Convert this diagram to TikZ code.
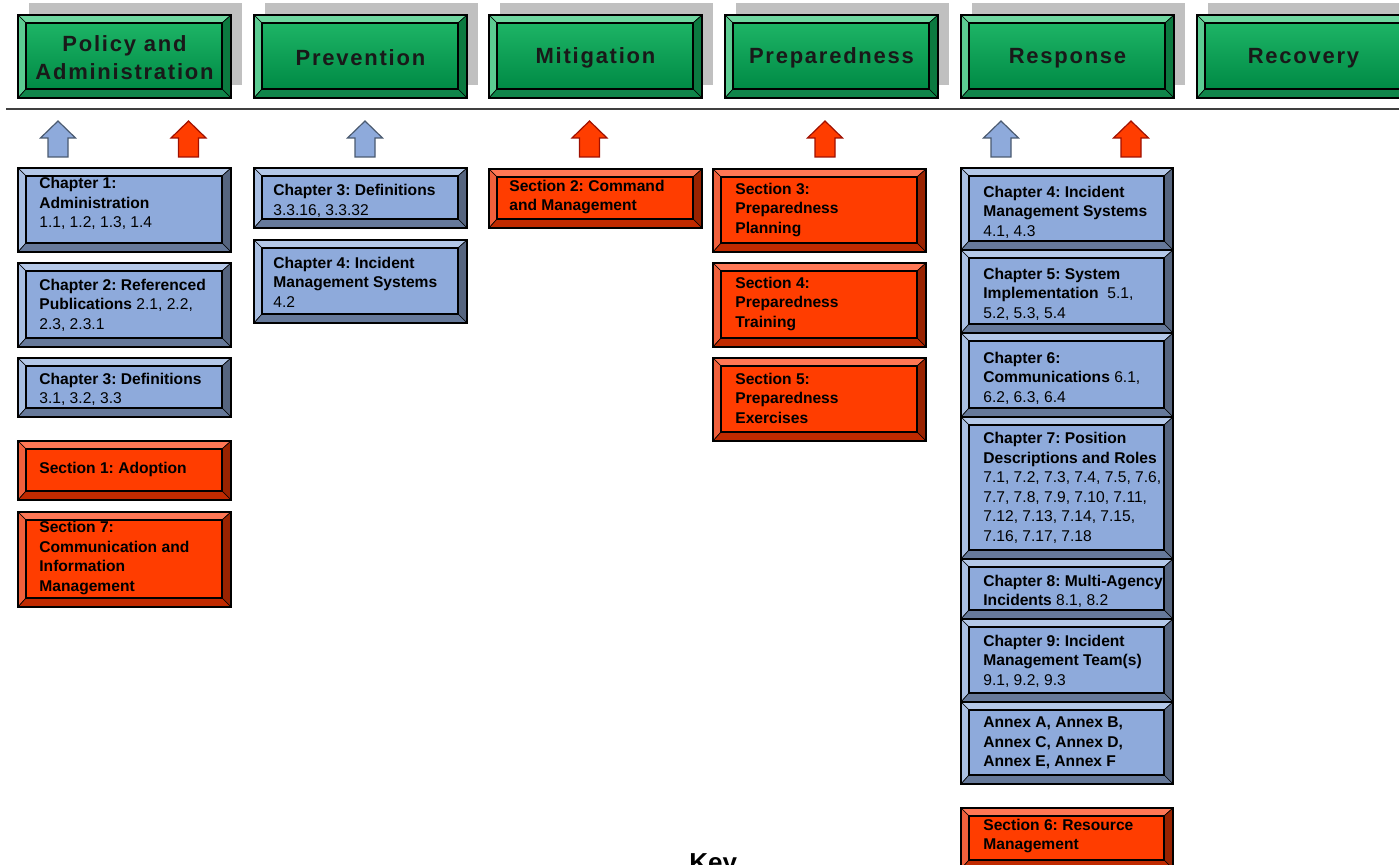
\documentclass[tikz,border=0pt]{standalone}
\usepackage{fontspec}
\setmainfont{Liberation Sans}
\newfontfamily\headfont[LetterSpace=8]{Liberation Sans}
\frenchspacing

\definecolor{grnMain}{HTML}{0FA055}
\definecolor{grnHi}{HTML}{1DB466}
\definecolor{grnLo}{HTML}{008A45}
\definecolor{grnTop}{HTML}{6FD6A0}
\definecolor{grnLeft}{HTML}{5CCC92}
\definecolor{grnRight}{HTML}{0B7A40}
\definecolor{grnBot}{HTML}{10854A}
\definecolor{bluMain}{HTML}{8EAADB}
\definecolor{bluTop}{HTML}{B4C8E8}
\definecolor{bluLeft}{HTML}{A9BFE2}
\definecolor{bluRight}{HTML}{56657F}
\definecolor{bluBot}{HTML}{66799A}
\definecolor{bluEdge}{HTML}{4A5A70}
\definecolor{redMain}{HTML}{FF3D00}
\definecolor{redTop}{HTML}{FF7755}
\definecolor{redLeft}{HTML}{F0603C}
\definecolor{redRight}{HTML}{992200}
\definecolor{redBot}{HTML}{C02A00}
\definecolor{redEdge}{HTML}{A01000}
\definecolor{backGray}{HTML}{C0C0C0}

\newcommand{\bevbox}[5]{%
\fill[#1Main] (#2,#3) rectangle (#4,#5);
\filldraw[fill=#1Top, thinline] (#2,#3) -- (#4,#3) -- (#4-9,#3+8) -- (#2+8,#3+8) -- cycle;
\filldraw[fill=#1Left, thinline] (#2,#3) -- (#2+8,#3+8) -- (#2+8,#5-9) -- (#2,#5) -- cycle;
\filldraw[fill=#1Right, thinline] (#4,#3) -- (#4,#5) -- (#4-9,#5-9) -- (#4-9,#3+8) -- cycle;
\filldraw[fill=#1Bot, thinline] (#2,#5) -- (#4,#5) -- (#4-9,#5-9) -- (#2+8,#5-9) -- cycle;
\path[#1Face, draw=black, line width=0.7pt] (#2+8,#3+8) rectangle (#4-9,#5-9);
\draw[line width=0.8pt] (#2,#3) rectangle (#4,#5);
}
\newcommand{\blockarr}[2]{%
\filldraw[#2] (#1,121) -- (#1+17.5,138) -- (#1+10,138) -- (#1+10,157)
  -- (#1-10,157) -- (#1-10,138) -- (#1-17.5,138) -- cycle;
}
\newcommand{\secs}[1]{{\mdseries #1}}

\begin{document}
\begin{tikzpicture}[x=0.5pt, y=-0.5pt,
  thinline/.style={draw=black, line width=0.3pt},
  backbox/.style={fill=backGray},
  grnFace/.style={top color=grnHi, bottom color=grnLo},
  bluFace/.style={fill=bluMain},
  redFace/.style={fill=redMain},
  arrB/.style={fill=bluMain, draw=bluEdge, line width=0.6pt},
  arrR/.style={fill=redMain, draw=redEdge, line width=0.6pt},
  head/.style={align=center, inner sep=0pt, text=black!90,
    font=\headfont\bfseries\fontsize{11}{14}\selectfont},
  btext/.style={anchor=west, align=left, inner sep=0pt,
    font=\bfseries\fontsize{7.8}{9.75}\selectfont}]
\useasboundingbox (0,0) rectangle (1399,865);
\clip (0,0) rectangle (1399,865);

\path[backbox] (29,3) rectangle (242,85);
\path[backbox] (265,3) rectangle (478,85);
\path[backbox] (500,3) rectangle (713,85);
\path[backbox] (736,3) rectangle (949,85);
\path[backbox] (972,3) rectangle (1185,85);
\path[backbox] (1208,3) rectangle (1421,85);

\bevbox{grn}{18}{15}{231}{98}
\node[head] (pol) at (124.5,58) {Policy and\\Administration};
\bevbox{grn}{254}{15}{467}{98}
\node[head] (prev) at (360.5,58) {Prevention};
\bevbox{grn}{489}{15}{702}{98}
\node[head] (mit) at (595.5,58) {Mitigation};
\bevbox{grn}{725}{15}{938}{98}
\node[head] (prep) at (831.5,58) {Preparedness};
\bevbox{grn}{961}{15}{1174}{98}
\node[head] (resp) at (1067.5,58) {Response};
\bevbox{grn}{1197}{15}{1410}{98}
\node[head] (rec) at (1303.5,58) {Recovery};

\draw[black!75, line width=0.8pt] (6,109) -- (1399,109);

\blockarr{58}{arrB}
\blockarr{188.5}{arrR}
\blockarr{365}{arrB}
\blockarr{589.5}{arrR}
\blockarr{825}{arrR}
\blockarr{1001}{arrB}
\blockarr{1131}{arrR}

\bevbox{blu}{18}{168}{231}{252}
\node[btext] (ch1) at (39,203.5) {Chapter 1:\\Administration\\\secs{1.1, 1.2, 1.3, 1.4}};
\bevbox{blu}{18}{263}{231}{347}
\node[btext] (ch2) at (39,305) {Chapter 2: Referenced\\Publications \secs{2.1, 2.2,}\\\secs{2.3, 2.3.1}};
\bevbox{blu}{18}{358}{231}{417}
\node[btext] (ch3) at (39,389.5) {Chapter 3: Definitions\\\secs{3.1, 3.2, 3.3}};
\bevbox{red}{18}{441}{231}{500}
\node[btext] (sec1) at (39,469) {Section 1: Adoption};
\bevbox{red}{18}{512}{231}{607}
\node[btext] (sec7) at (39,558) {Section 7:\\Communication and\\Information\\Management};

\bevbox{blu}{254}{168}{467}{228}
\node[btext] (defs) at (273,201) {Chapter 3: Definitions\\\secs{3.3.16, 3.3.32}};
\bevbox{blu}{254}{240}{467}{323}
\node[btext] (ims) at (273,282) {Chapter 4: Incident\\Management Systems\\\secs{4.2}};

\bevbox{red}{489}{169}{702}{228}
\node[btext] (sec2) at (509,197) {Section 2: Command\\and Management};

\bevbox{red}{713}{169}{926}{252}
\node[btext] (sec3) at (735,210) {Section 3:\\Preparedness\\Planning};
\bevbox{red}{713}{263}{926}{347}
\node[btext] (sec4) at (735,304) {Section 4:\\Preparedness\\Training};
\bevbox{red}{713}{358}{926}{441}
\node[btext] (sec5) at (735,398) {Section 5:\\Preparedness\\Exercises};

\bevbox{blu}{961}{168}{1173}{250}
\node[btext] (rch4) at (983,212) {Chapter 4: Incident\\Management Systems\\\secs{4.1, 4.3}};
\bevbox{blu}{961}{250}{1173}{333}
\node[btext] (rch5) at (983,294) {Chapter 5: System\\Implementation \ \secs{5.1,}\\\secs{5.2, 5.3, 5.4}};
\bevbox{blu}{961}{333}{1173}{417}
\node[btext] (rch6) at (983,378) {Chapter 6:\\Communications \secs{6.1,}\\\secs{6.2, 6.3, 6.4}};
\bevbox{blu}{961}{417}{1173}{559}
\node[btext] (rch7) at (983,488) {Chapter 7: Position\\Descriptions and Roles\\\secs{7.1, 7.2, 7.3, 7.4, 7.5, 7.6,}\\\secs{7.7, 7.8, 7.9, 7.10, 7.11,}\\\secs{7.12, 7.13, 7.14, 7.15,}\\\secs{7.16, 7.17, 7.18}};
\bevbox{blu}{961}{559}{1173}{619}
\node[btext] (rch8) at (983,591.5) {Chapter 8: Multi-Agency\\Incidents \secs{8.1, 8.2}};
\bevbox{blu}{961}{619}{1173}{702}
\node[btext] (rch9) at (983,661) {Chapter 9: Incident\\Management Team(s)\\\secs{9.1, 9.2, 9.3}};
\bevbox{blu}{961}{702}{1173}{784}
\node[btext] (annex) at (983,743) {Annex A, Annex B,\\Annex C, Annex D,\\Annex E, Annex F};
\bevbox{red}{961}{808}{1173}{869}
\node[btext] (sec6) at (983,836) {Section 6: Resource\\Management};

\node[anchor=base west, inner sep=0pt, font=\bfseries\fontsize{13}{15}\selectfont] (key) at (689,871.5) {Key};
\end{tikzpicture}
\end{document}
